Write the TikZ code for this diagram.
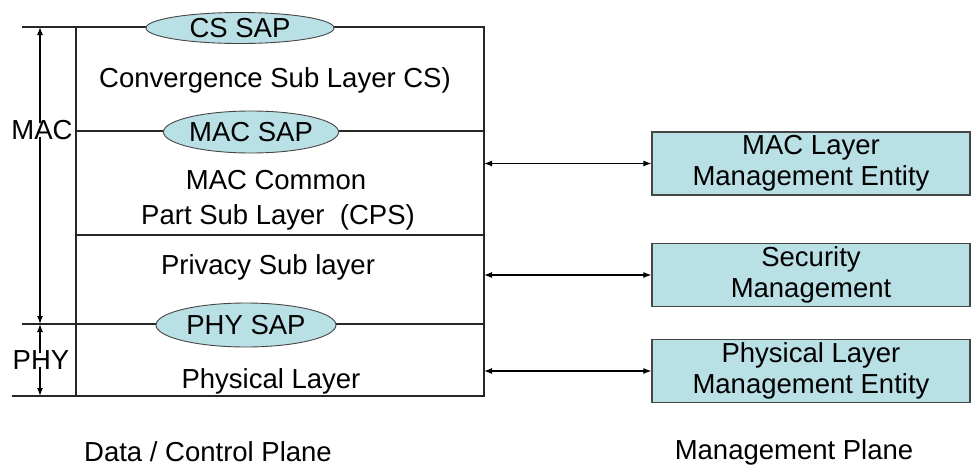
\documentclass[tikz,border=0pt]{standalone}
\usepackage{fontspec}
\setmainfont{Liberation Sans}
\usetikzlibrary{arrows.meta,shapes.geometric}
\definecolor{sapfill}{RGB}{185,224,228}
\definecolor{edgegray}{RGB}{70,70,70}
\begin{document}
\begin{tikzpicture}[x=1pt,y=-1pt,
  every node/.style={font=\fontsize{27.5}{31}\selectfont, inner sep=0pt},
  layerline/.style={line width=1.2pt, draw=black!85},
  sap/.style={ellipse, draw=edgegray, line width=0.9pt, fill=sapfill,
              minimum width=#1, inner sep=0pt},
  mgmt/.style={draw=edgegray, line width=1.2pt, fill=sapfill, align=center,
                minimum width=318pt, minimum height=63pt},
  biarrow/.style={line width=1.2pt, {Latex[length=8pt,width=6pt]}-{Latex[length=8pt,width=6pt]}},
  onearrow/.style={line width=1.2pt, -{Latex[length=8pt,width=6pt]}}]
\useasboundingbox (0,0) rectangle (971,469);

% layer stack frame
\coordinate (tl) at (22,27);   \coordinate (tr) at (484,27);
\coordinate (ml) at (76,131);  \coordinate (mr) at (484,131);
\coordinate (cl) at (76,235);  \coordinate (cr) at (484,235);
\coordinate (pl) at (22,324);  \coordinate (pr) at (484,324);
\coordinate (bl) at (12,396);  \coordinate (br) at (484,396);
\coordinate (lt) at (76,27);   \coordinate (lb) at (76,396);

\draw[layerline] (tl) -- (tr) -- (br) -- (bl);
\draw[layerline] (lt) -- (lb);
\draw[layerline] (ml) -- (mr);
\draw[layerline] (cl) -- (cr);
\draw[layerline] (pl) -- (pr);

% service access points
\node[sap=188pt, minimum height=31pt] (cssap) at (240,28) {CS SAP};
\node[sap=172pt, minimum height=42pt] (macsap) at (251,132) {MAC SAP};
\node[sap=180pt, minimum height=44pt] (physap) at (246,325) {PHY SAP};

% layer names
\node (cs)   at (275,80)  {Convergence Sub Layer CS)};
\node (cps1) at (276,180) {MAC Common};
\node (cps2) at (278,217) {Part Sub Layer\ \ (CPS)};
\node (priv) at (268,267) {Privacy Sub layer};
\node (phys) at (271,381) {Physical Layer};

% extent markers
\node (mac) at (42,130) {MAC};
\node (phy) at (41,360) {PHY};
\coordinate (macTop) at (40,27);
\coordinate (macBot) at (40,324);
\coordinate (phyTop) at (40,324);
\coordinate (phyBot) at (40,396);
\draw[onearrow] ([yshift=-3pt]mac.north -| macTop) -- (macTop);
\draw[onearrow] ([yshift=3pt]mac.south -| macBot) -- (macBot);
\draw[onearrow] ([yshift=-3pt]phy.north -| phyTop) -- (phyTop);
\draw[onearrow] ([yshift=3pt]phy.south -| phyBot) -- (phyBot);

% management entities
\node[mgmt] (lme)  at (811,163.5) {MAC Layer\\Management Entity};
\node[mgmt] (sec)  at (811,275)   {Security\\Management};
\node[mgmt] (plme) at (811,371)   {Physical Layer\\Management Entity};

\coordinate (a1) at (484,163.5);
\coordinate (a2) at (484,275);
\coordinate (a3) at (484,371);
\draw[biarrow] (a1) -- (lme.west);
\draw[biarrow] (a2) -- (sec.west);
\draw[biarrow] (a3) -- (plme.west);

% plane captions
\node (dcp) at (208,452) {Data / Control Plane};
\node (mp)  at (794,452) {Management Plane};
\end{tikzpicture}
\end{document}
